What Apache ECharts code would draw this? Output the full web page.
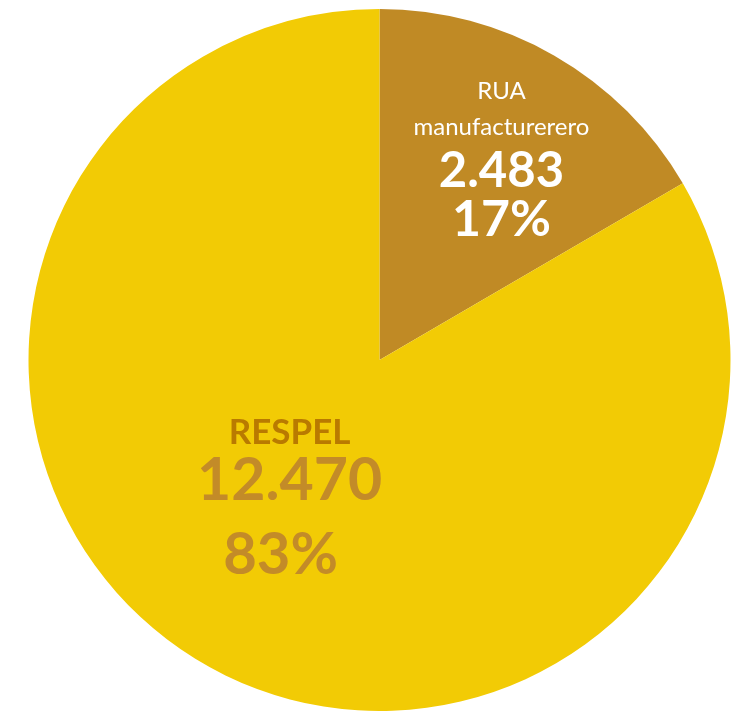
<!DOCTYPE html>
<html>
<head>
<meta charset="utf-8">
<script src="https://cdn.jsdelivr.net/npm/echarts@6/dist/echarts.min.js"></script>
<style>
html,body{margin:0;padding:0;background:#fff;}
#chart{width:745px;height:711px;}
</style>
</head>
<body>
<div id="chart"></div>
<script>
const categories = ['RUA\nmanufacturerero', 'RESPEL'];
const values = [2483, 12470];
const colors = ['#C08A25', '#F2CB05'];

const total = values.reduce((a, b) => a + b, 0);
function fmtNum(v) {
  return String(v).replace(/\B(?=(\d{3})+(?!\d))/g, '.');
}
function makeFormatter(prefix) {
  return function (p) {
    const nameLines = p.name.split('\n').map(s => '{' + prefix + 'n|' + s + '}').join('\n');
    const pct = Math.round(p.value / total * 100);
    return nameLines + '\n{' + prefix + 'v|' + fmtNum(p.value) + '}\n{' + prefix + 'p|' + pct + '%}';
  };
}

const FONT = 'Lato, "Open Sans", sans-serif';
const labelStyles = [
  {
    show: true, position: 'inside', formatter: makeFormatter('a'), align: 'center',
    rich: {
      an: { fontFamily: FONT, fontSize: 24, color: '#ffffff', lineHeight: 36, align: 'center' },
      av: { fontFamily: FONT, fontSize: 49, fontWeight: 'bold', color: '#ffffff', lineHeight: 52, align: 'center' },
      ap: { fontFamily: FONT, fontSize: 50, fontWeight: 'bold', color: '#ffffff', lineHeight: 46, align: 'center' }
    }
  },
  {
    show: true, position: 'inside', formatter: makeFormatter('b'), align: 'center',
    rich: {
      bn: { fontFamily: FONT, fontSize: 35, fontWeight: 'bold', color: '#B97A00', lineHeight: 36, align: 'center' },
      bv: { fontFamily: FONT, fontSize: 59, fontWeight: 'bold', color: '#C38B28', lineHeight: 60, align: 'center' },
      bp: { fontFamily: FONT, fontSize: 58, fontWeight: 'bold', color: '#C38B28', lineHeight: 90, align: 'center', padding: [0, 18, 0, 0] }
    }
  }
];

const chart = echarts.init(document.getElementById('chart'), null, { renderer: 'canvas' });
chart.setOption({
  animation: false,
  series: [{
    type: 'pie',
    center: [379.5, 360],
    radius: [0, 351],
    startAngle: 90,
    clockwise: true,
    silent: true,
    labelLine: { show: false },
    data: categories.map((c, i) => ({
      name: c, value: values[i],
      itemStyle: { color: colors[i] },
      label: labelStyles[i]
    })),
    labelLayout: function (p) {
      return p.dataIndex === 0 ? { dx: 33, dy: -47 } : { dx: -1, dy: -7 };
    }
  }]
});
</script>
</body>
</html>
